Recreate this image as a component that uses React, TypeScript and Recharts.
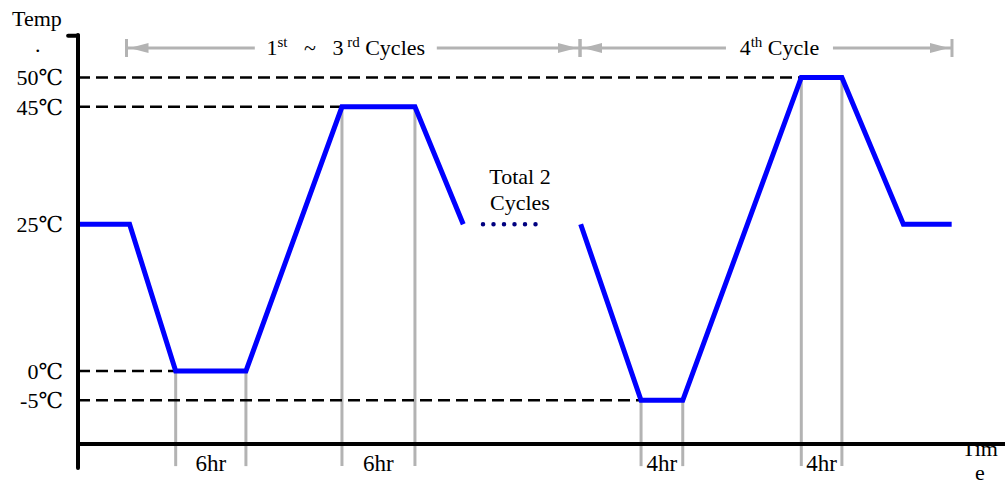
import { LineChart, Line, XAxis, YAxis, ReferenceLine, ReferenceDot } from 'recharts';

const FONT = "'Liberation Serif', 'Times New Roman', Times, 'DejaVu Serif', serif";
const BLUE = '#0000ff';
const GRAY = '#b3b3b3';

// time in hours, temperature in degC
const firstTimes = [0, 4.7, 8.9, 15.3, 24.05, 30.7, 35.1];
const firstTemps = [25, 25, 0, 0, 45, 45, 25];
const lastTimes = [45.8, 51.3, 55.1, 65.9, 69.6, 75.2, 79.6];
const lastTemps = [25, -5, -5, 50, 50, 25, 25];
const gapTimes = [36.9, 42.64];
const gapTemps = [25, 25];

// dwell periods marked with gray guides
const holdStart = [8.9, 24.05, 51.3, 65.9];
const holdEnd = [15.3, 30.7, 55.1, 69.6];
const holdTemp = [0, 45, -5, 50];
const holdLabels = ['6hr', '6hr', '4hr', '4hr'];

const yTicks = [50, 45, 25, 0, -5];

// cycle spans at the top (normal / superscript parts alternate)
const spanFrom = [4.42, 45.74];
const spanTo = [45.74, 79.63];
const spanMid = [24.4, 63.91];
const spanGap = [182, 107];
const spanParts = [
    ['1', 'st', '   ~   3', ' rd', ' Cycles'],
    ['4', 'th', ' Cycle'],
];

const yDomain = [-16.52, 57.24];
const xDomain = [0, 84.46];
const axisTemp = -12.44;
const guideBottom = -16.2;
const spanTemp = 55.03;

const firstData = firstTimes.map((time, i) => ({ time, temp: firstTemps[i] }));
const lastData = lastTimes.map((time, i) => ({ time, temp: lastTemps[i] }));
const gapData = gapTimes.map((time, i) => ({ time, temp: gapTemps[i] }));

function ArrowShape(props: any) {
    const { x1, x2, y1 } = props;
    const a = Math.min(x1, x2);
    const b = Math.max(x1, x2);
    const y = y1;
    return (
        <g>
            <line x1={a} y1={y} x2={b} y2={y} stroke={GRAY} strokeWidth={3} />
            <line x1={a} y1={y - 9} x2={a} y2={y + 9} stroke={GRAY} strokeWidth={3} />
            <line x1={b} y1={y - 9} x2={b} y2={y + 9} stroke={GRAY} strokeWidth={3} />
            <polygon points={`${a + 3},${y} ${a + 22},${y - 5} ${a + 22},${y + 5}`} fill={GRAY} />
            <polygon points={`${b - 3},${y} ${b - 22},${y - 5} ${b - 22},${y + 5}`} fill={GRAY} />
        </g>
    );
}

const spanLabel = (i: number) => (p: any) => {
    const { x, y, width, height } = p.viewBox;
    const cx = x + width / 2;
    const cy = y + height / 2;
    return (
        <g>
            <rect x={cx - spanGap[i] / 2} y={cy - 14} width={spanGap[i]} height={24} fill="#fff" />
            <text
                x={cx}
                y={cy + 7}
                textAnchor="middle"
                fontFamily={FONT}
                fontSize={22}
                fill="#000"
                style={{ whiteSpace: 'pre', fontFamily: FONT }}
            >
                {spanParts[i].map((s, k) => (
                    <tspan key={k} fontSize={k % 2 ? 15 : 22} dy={k === 0 ? 0 : k % 2 ? -8 : 8}>
                        {s}
                    </tspan>
                ))}
            </text>
        </g>
    );
};

const holdLabel = (i: number) => (p: any) => {
    const { x, y, width, height } = p.viewBox;
    return (
        <text
            x={x + width / 2}
            y={y + height / 2 + 27}
            textAnchor="middle"
            fontSize={23}
            fill="#000"
            style={{ fontFamily: FONT }}
        >
            {holdLabels[i]}
        </text>
    );
};

const totalLabel = (p: any) => {
    const { x, y, width, height } = p.viewBox;
    const cx = x + width / 2;
    const cy = y + height / 2;
    return (
        <g fontSize={22} fill="#000" style={{ fontFamily: FONT }}>
            <text x={cx} y={cy - 40} textAnchor="middle">Total 2</text>
            <text x={cx} y={cy - 14} textAnchor="middle">Cycles</text>
        </g>
    );
};

const plainText = { fontFamily: FONT, fontSize: 22, fill: '#000' };

export default function App() {
    return (
        <div style={{ position: 'absolute', left: 0, top: 0, background: '#fff', fontFamily: FONT }}>
            <LineChart width={1005} height={484} margin={{ top: 35, right: 0, bottom: 16, left: 0 }}>
                <XAxis type="number" dataKey="time" domain={xDomain} hide allowDataOverflow />
                <YAxis
                    type="number"
                    domain={yDomain}
                    ticks={yTicks}
                    interval={0}
                    width={78}
                    allowDataOverflow
                    tickLine={false}
                    tickMargin={9}
                    axisLine={{ stroke: '#000', strokeWidth: 4, strokeLinecap: 'round' }}
                    tick={{ fill: '#000', fontSize: 22, fontFamily: FONT, style: { fontFamily: FONT } }}
                    tickFormatter={(v: number) => `${v}℃`}
                />

                {/* gray guides under each dwell */}
                {holdStart.map((t, i) => (
                    <ReferenceLine
                        key={`gs${i}`}
                        segment={[{ x: t, y: holdTemp[i] }, { x: t, y: guideBottom }]}
                        stroke={GRAY}
                        strokeWidth={3}
                    />
                ))}
                {holdEnd.map((t, i) => (
                    <ReferenceLine
                        key={`ge${i}`}
                        segment={[{ x: t, y: holdTemp[i] }, { x: t, y: guideBottom }]}
                        stroke={GRAY}
                        strokeWidth={3}
                    />
                ))}

                {/* dashed level lines */}
                {holdStart.map((t, i) => (
                    <ReferenceLine
                        key={`d${i}`}
                        segment={[{ x: 0, y: holdTemp[i] }, { x: t, y: holdTemp[i] }]}
                        stroke="#000"
                        strokeWidth={2.5}
                        strokeDasharray="12 6"
                    />
                ))}

                {/* time axis */}
                <ReferenceLine y={axisTemp} stroke="#000" strokeWidth={4} />
                <ReferenceLine
                    segment={[{ x: -0.9, y: 57.1 }, { x: 0, y: 57.1 }]}
                    ifOverflow="visible"
                    stroke="#000"
                    strokeWidth={4}
                    strokeLinecap="round"
                />

                {spanFrom.map((t, i) => (
                    <ReferenceLine
                        key={`s${i}`}
                        segment={[{ x: t, y: spanTemp }, { x: spanTo[i], y: spanTemp }]}
                        shape={ArrowShape}
                    />
                ))}

                <Line
                    data={firstData}
                    dataKey="temp"
                    stroke={BLUE}
                    strokeWidth={5}
                    dot={false}
                    isAnimationActive={false}
                />
                <Line
                    data={gapData}
                    dataKey="temp"
                    stroke="#000080"
                    strokeWidth={4.5}
                    strokeDasharray="0 10.5"
                    strokeLinecap="round"
                    dot={false}
                    isAnimationActive={false}
                />
                <Line
                    data={lastData}
                    dataKey="temp"
                    stroke={BLUE}
                    strokeWidth={5}
                    dot={false}
                    isAnimationActive={false}
                />

                {spanMid.map((t, i) => (
                    <ReferenceDot
                        key={`sl${i}`}
                        x={t}
                        y={spanTemp}
                        r={1}
                        fill="none"
                        stroke="none"
                        label={spanLabel(i)}
                    />
                ))}
                {holdStart.map((t, i) => (
                    <ReferenceDot
                        key={`hl${i}`}
                        x={(t + holdEnd[i]) / 2}
                        y={axisTemp}
                        r={1}
                        fill="none"
                        stroke="none"
                        label={holdLabel(i)}
                    />
                ))}
                <ReferenceDot x={40.27} y={25} r={1} fill="none" stroke="none" label={totalLabel} />

                <text x={12} y={26} style={plainText}>Temp</text>
                <text x={35} y={52} style={plainText}>.</text>
                <text x={962} y={456} style={plainText}>Tim</text>
                <text x={975} y={480} style={plainText}>e</text>
            </LineChart>
        </div>
    );
}
